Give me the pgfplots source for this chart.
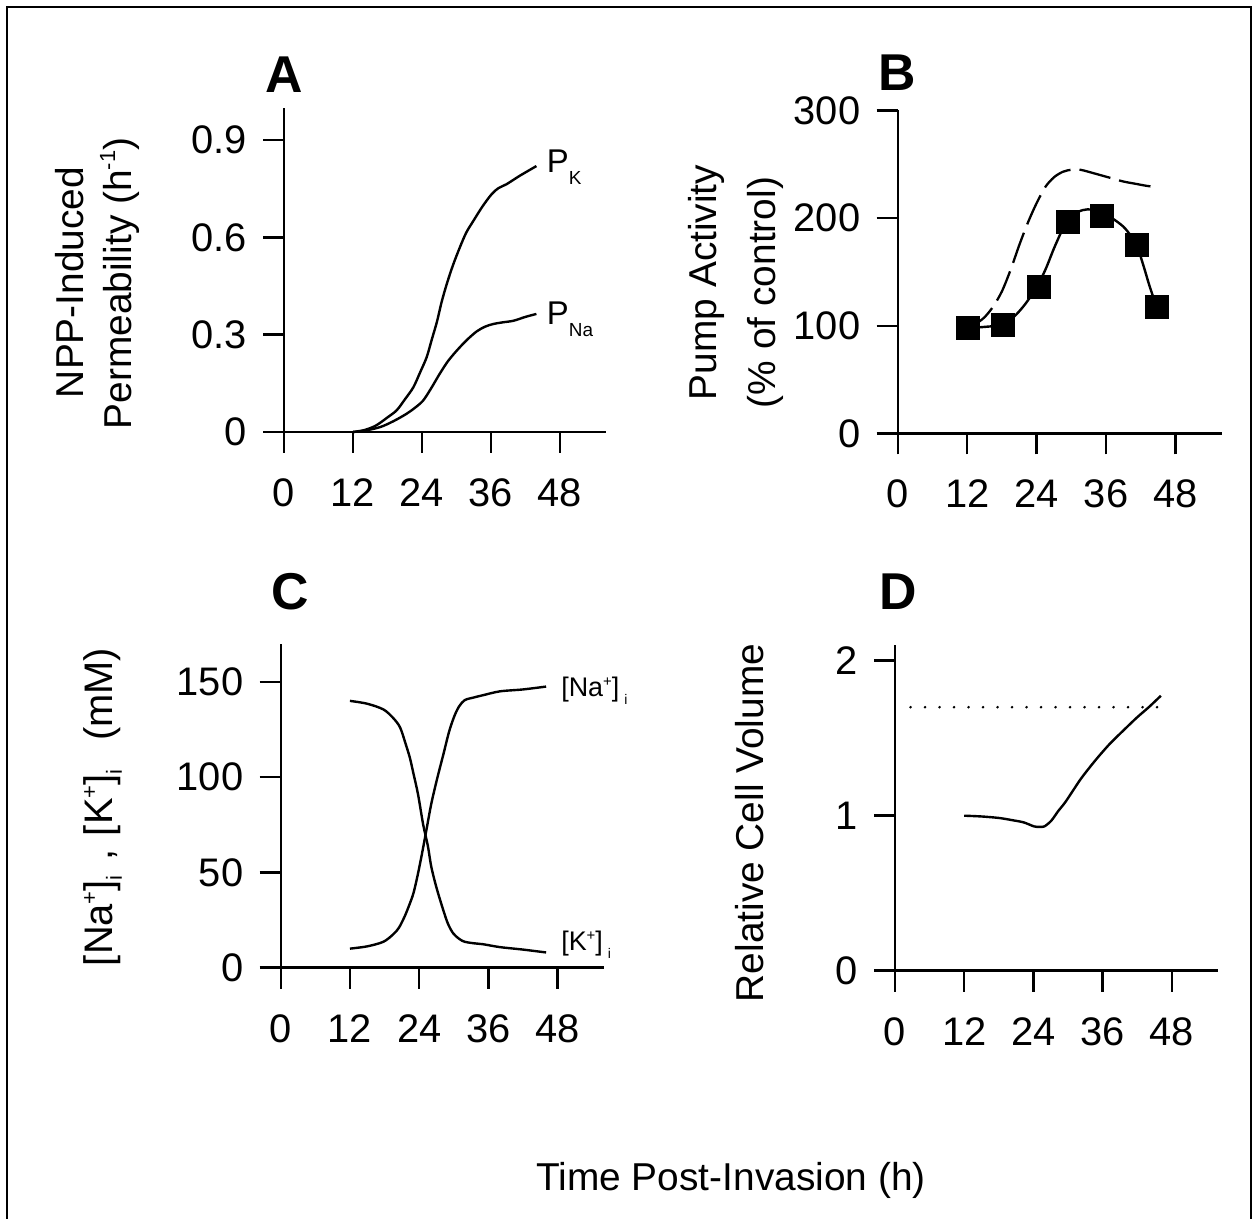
\documentclass[border=0pt]{standalone}
\usepackage{fontspec}
\setmainfont{Liberation Sans}
\usepackage{pgfplots}
\pgfplotsset{compat=1.18}
\newcommand{\up}[3]{\raisebox{#2}{\fontsize{#1}{#1}\selectfont #3}}
\pgfplotsset{
  panel/.style={
    scale only axis,
    axis lines=left,
    axis line style={-, line width=2.4bp},
    every tick/.style={line width=2.4bp, black},
    tick align=outside,
    major tick length=21bp,
    xmin=0, xmax=56, ymin=0,
    xtick={0,12,24,36,48},
    tick label style={font=\fontsize{40}{42}\selectfont},
    xticklabel style={yshift=-22bp},
    yticklabel style={xshift=-13bp},
    /pgf/number format/assume math mode=true,
    clip=false,
  },
  curve/.style={black, line width=2.4bp, no markers},
}
\begin{document}
\begin{tikzpicture}
\path (0bp,0bp) rectangle (1258bp,1221bp);
\draw[line width=2.5bp] (7bp,2bp) -- (7bp,1214bp) -- (1251bp,1214bp) -- (1251bp,2bp);

% Panel A
\begin{axis}[panel, at={(284bp,789bp)}, anchor=south west, width=322bp, height=324.3bp,
  ymax=1.0, ytick={0,0.3,0.6,0.9}, yticklabels={0,0.3,0.6,0.9}]
\addplot[curve, smooth] coordinates {(12,0) (14,0.006) (16,0.02) (18,0.045) (19.6,0.067) (21,0.1) (22.5,0.138) (23.7,0.185) (24.8,0.23) (25.7,0.285) (26.6,0.34) (27.4,0.4) (28.3,0.456) (29.4,0.515) (30.6,0.57) (31.7,0.615) (32.9,0.65) (34.5,0.695) (36.1,0.733) (37.3,0.752) (38.7,0.764) (41,0.79) (43.9,0.82)};
\addplot[curve, smooth] coordinates {(12,0) (14,0.004) (16.7,0.015) (19,0.033) (21.3,0.056) (22.8,0.075) (24.2,0.097) (25.6,0.135) (27.1,0.18) (28.5,0.218) (30,0.25) (31.7,0.282) (33.5,0.31) (35,0.325) (36.4,0.333) (38,0.338) (39.9,0.343) (42,0.355) (43.9,0.364)};
\node[anchor=base west, inner sep=0pt, font=\fontsize{33}{34}\selectfont] at (axis cs:45.7,0.80) {P\up{19}{-12bp}{K}};
\node[anchor=base west, inner sep=0pt, font=\fontsize{33}{34}\selectfont] at (axis cs:45.7,0.33) {P\up{19}{-12bp}{Na}};
\end{axis}

% Panel B
\begin{axis}[panel, at={(897.7bp,787.5bp)}, anchor=south west, width=324.2bp, height=323bp,
  ymax=300, ytick={0,100,200,300}]
\addplot[black, line width=2.3bp, dash pattern=on 32bp off 9bp, smooth] coordinates {(12,99) (13.5,102) (15,108) (16.5,118) (18,132) (19.5,152) (21,175) (22.5,196) (24,214) (25.5,229) (27,238) (28.5,243) (30,245) (31.5,245) (33,243) (35,240) (37,237) (39,234) (41,232) (43,230) (44.5,229)};
\addplot[curve, smooth] coordinates {(12,98) (15,99) (18,101) (20,108) (22,120) (24,136) (25.5,152) (27,172) (28.5,190) (29.3,197) (30.5,204) (32,207.5) (33.5,208) (35.3,204) (37,200) (39,192) (40.5,182) (41.3,175) (42.5,155) (43.5,137) (44.7,118)};
\addplot[only marks, mark=square*, mark size=11.5bp, black] coordinates {(12.1,97.8) (18.2,101) (24.3,136) (29.3,196.6) (35.3,202) (41.25,175) (44.7,118)};
\end{axis}

% Panel C
\begin{axis}[panel, at={(280.7bp,253.3bp)}, anchor=south west, width=323.1bp, height=324bp,
  ymax=170, ytick={0,50,100,150}]
\addplot[curve, smooth] coordinates {(12,10) (15,11.2) (17.8,13.6) (19.5,17.5) (20.5,21) (21.5,27) (22.3,33) (23,39) (23.7,48) (24.5,60) (25.3,73) (26.1,86) (27.1,99) (28.2,112) (29.2,124) (30.1,132) (30.9,137) (31.9,140.4) (33.5,141.8) (35.1,143) (38,145) (42,146) (46,147.5)};
\addplot[curve, smooth] coordinates {(12,140) (15,138.5) (17.8,135.5) (19.5,131) (20.7,126) (21.7,117) (22.4,110) (23,102) (23.8,91) (24.7,75) (25.5,64) (26.1,53) (27,42) (28.2,30) (29,23) (29.9,18) (31,15) (31.9,13.6) (33.5,12.8) (35.1,12.3) (38,10.8) (42,9.5) (46,8)};
\node[anchor=base west, inner sep=0pt, font=\fontsize{27}{28}\selectfont] at (axis cs:48.6,142.5) {[Na\up{15}{10bp}{+}]\hspace{5bp}\up{14}{-8bp}{i}};
\node[anchor=base west, inner sep=0pt, font=\fontsize{27}{28}\selectfont] at (axis cs:48.6,8.8) {[K\up{15}{10bp}{+}]\hspace{5bp}\up{14}{-8bp}{i}};
\end{axis}

% Panel D
\begin{axis}[panel, at={(895bp,250.3bp)}, anchor=south west, width=323bp, height=325.5bp,
  ymax=2.1, ytick={0,1,2}]
\addplot[black, line width=2.8bp, line cap=round, dash pattern=on 0bp off 14.5bp] coordinates {(2.7,1.7) (46.1,1.7)};
\addplot[curve, smooth] coordinates {(12,1.0) (15,0.995) (18.1,0.985) (20.5,0.97) (22.3,0.957) (24.1,0.931) (25,0.928) (25.9,0.931) (27.1,0.968) (28.3,1.03) (29.5,1.086) (31,1.17) (32.4,1.247) (34.8,1.36) (37.2,1.462) (39.6,1.55) (41.96,1.634) (44,1.7) (46.1,1.774)};
\end{axis}

% panel letters
\node[anchor=base west, inner sep=0pt, font=\fontsize{52}{52}\selectfont\bfseries] at (265bp,1128bp) {A};
\node[anchor=base west, inner sep=0pt, font=\fontsize{52}{52}\selectfont\bfseries] at (878bp,1130bp) {B};
\node[anchor=base west, inner sep=0pt, font=\fontsize{52}{52}\selectfont\bfseries] at (271bp,611bp) {C};
\node[anchor=base west, inner sep=0pt, font=\fontsize{52}{52}\selectfont\bfseries] at (879bp,611bp) {D};

% y labels
\node[rotate=90, anchor=base, inner sep=0pt, font=\fontsize{39}{40}\selectfont] at (83bp,938.5bp) {NPP-Induced};
\node[rotate=90, anchor=base, inner sep=0pt, font=\fontsize{39}{40}\selectfont] at (131bp,937.5bp) {Permeability (h\up{22}{16bp}{-1})};
\node[rotate=90, anchor=base, inner sep=0pt, font=\fontsize{39}{40}\selectfont] at (716bp,938.5bp) {Pump Activity};
\node[rotate=90, anchor=base, inner sep=0pt, font=\fontsize{39}{40}\selectfont] at (775bp,928.5bp) {(\% of control)};
\node[rotate=90, anchor=center, inner sep=0pt, font=\fontsize{40}{40}\selectfont] at (103bp,414bp) {[Na\up{22}{16bp}{+}]\up{22}{-9bp}{i}\hspace{4bp} , \hspace{2bp}[K\up{22}{16bp}{+}]\up{22}{-9bp}{i}\ \ \,(mM)};
\node[rotate=90, anchor=base, inner sep=0pt, font=\fontsize{39}{40}\selectfont] at (763bp,398bp) {Relative Cell Volume};

% x label
\node[anchor=base, inner sep=0pt, font=\fontsize{39}{40}\selectfont] at (731bp,31bp) {Time Post-Invasion (h)};
\end{tikzpicture}
\end{document}
